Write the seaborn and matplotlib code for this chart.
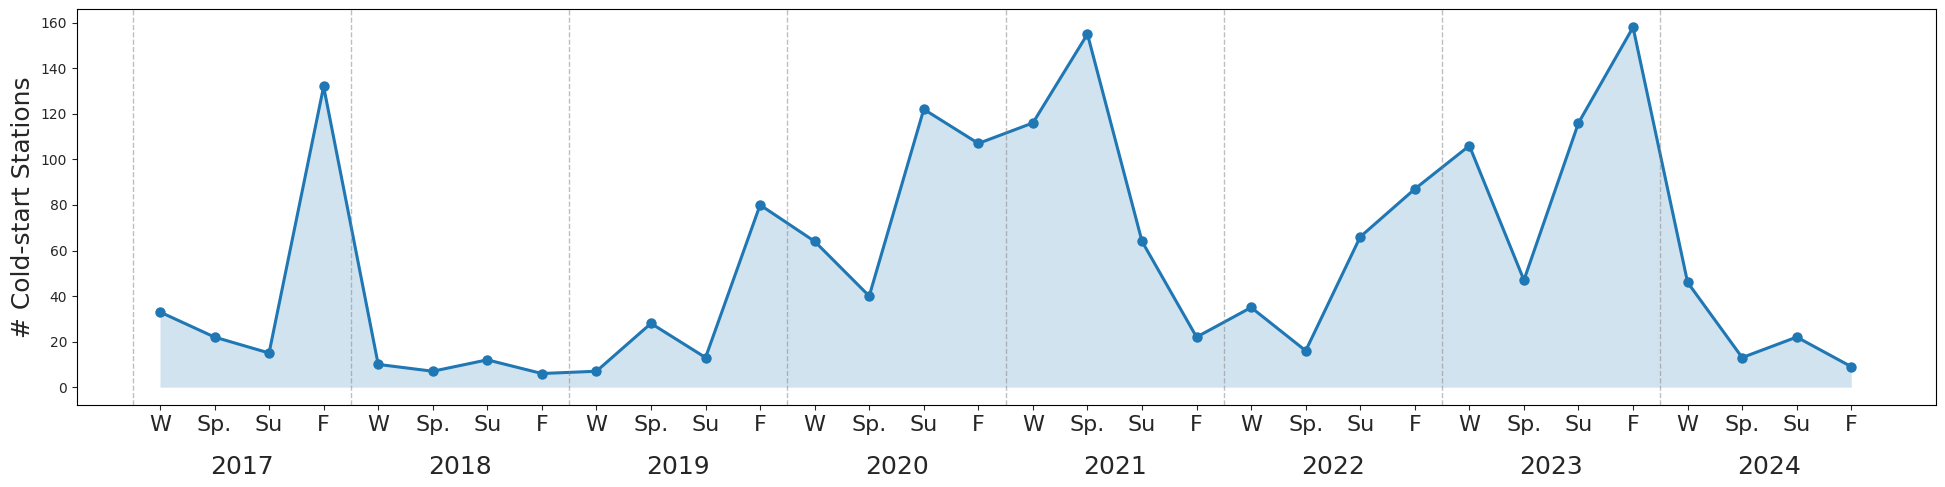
import matplotlib
matplotlib.use("Agg")
import matplotlib.pyplot as plt
import seaborn as sns
import numpy as np
import pandas as pd

years = ["2017", "2018", "2019", "2020", "2021", "2022", "2023", "2024"]
seasons = ["W", "Sp.", "Su", "F"]
values = [33, 22, 15, 132,
          10, 7, 12, 6,
          7, 28, 13, 80,
          64, 40, 122, 107,
          116, 155, 64, 22,
          35, 16, 66, 87,
          106, 47, 116, 158,
          46, 13, 22, 9]

idx = np.arange(len(values))
df = pd.DataFrame({"idx": idx, "count": values})

sns.set_style("white")
plt.rcParams['font.family'] = ['DejaVu Sans']
fig, ax = plt.subplots(figsize=(19.45, 4.87), dpi=100)
fig.subplots_adjust(left=0.0396, right=0.9953, top=0.981, bottom=0.168)

sns.lineplot(data=df, x="idx", y="count", ax=ax, color="#1f77b4",
             marker="o", markersize=7.5, markeredgewidth=0, linewidth=2.2)
ax.fill_between(df["idx"], 0, df["count"], color="#1f77b4", alpha=0.2, linewidth=0)

for i in range(len(years)):
    ax.axvline(i * 4 - 0.5, color="gray", linestyle="--", linewidth=1, alpha=0.5)

ax.set_xticks(idx)
ax.set_xticklabels([seasons[i % 4] for i in idx], fontsize=16)
ax.tick_params(axis="y", labelsize=10)
ax.set_xlim(-1.52, 32.55)
for i, y in enumerate(years):
    ax.text(i * 4 + 1.5, -0.157, y, transform=ax.get_xaxis_transform(),
            ha="center", va="center", fontsize=18)

ax.set_xlabel("")
ax.set_ylabel("# Cold-start Stations", fontsize=18)
for s in ax.spines.values():
    s.set_visible(True)
    s.set_color("black")
ax.tick_params(axis="both", which="both", bottom=True, left=True, length=3.5, width=0.8)

fig.savefig("out.png", dpi=100)
